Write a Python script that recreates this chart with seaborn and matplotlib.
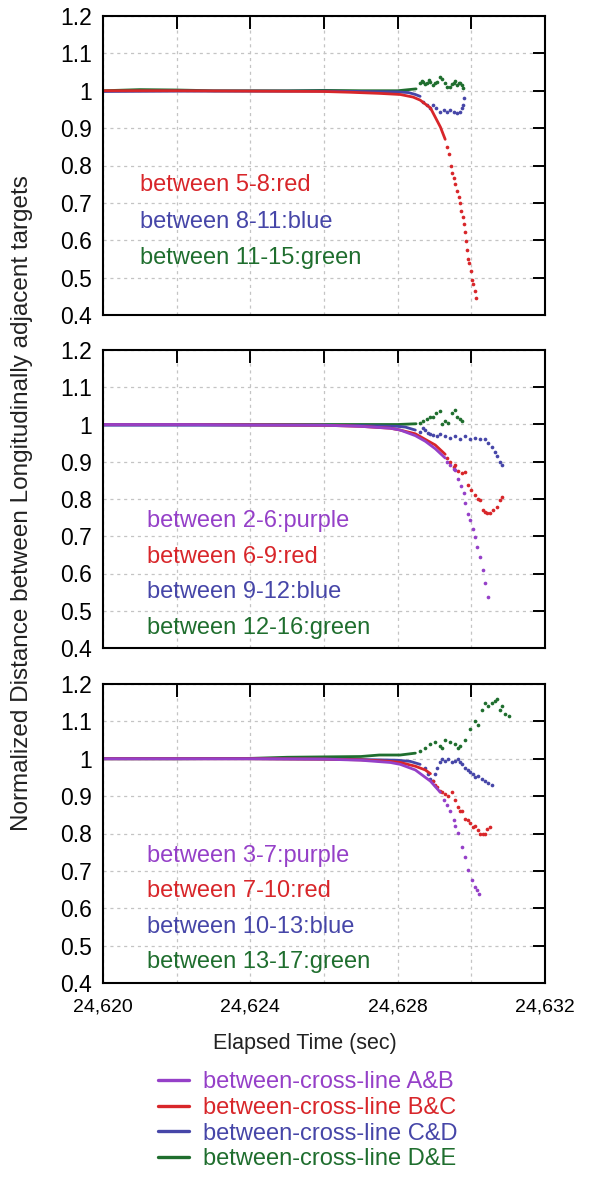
import matplotlib
matplotlib.use('Agg')
import matplotlib.pyplot as plt
import seaborn as sns
import pandas as pd
from matplotlib.lines import Line2D
from matplotlib.ticker import FuncFormatter, MultipleLocator

sns.set_theme(style='white')
plt.rcParams['font.family'] = ['Liberation Sans', 'DejaVu Sans']

T0 = 24620  # elapsed-time origin (sec); all t values below are offsets from it

# ---------------- top panel ----------------
top_green_t = [0, 1, 2, 3, 4, 5, 6, 7, 8, 8.5]
top_green_v = [1.0, 1.003, 1.002, 1.0, 1.0, 1.0, 1.001, 1.0, 1.0, 1.005]
top_green_dot_t = [8.61, 8.66, 8.70, 8.75, 8.80, 8.85, 8.89, 8.97, 9.02, 9.08, 9.16, 9.21, 9.29, 9.35, 9.43, 9.48, 9.52, 9.57, 9.61, 9.66, 9.70, 9.74, 9.77]
top_green_dot_v = [1.02, 1.025, 1.024, 1.018, 1.02, 1.028, 1.024, 1.015, 1.02, 1.024, 1.038, 1.031, 1.02, 1.011, 1.011, 1.018, 1.02, 1.025, 1.015, 1.02, 1.022, 1.015, 1.007]
top_blue_t = [0, 2, 4, 6, 7, 8, 8.3, 8.48, 8.61]
top_blue_v = [0.998, 0.999, 0.999, 0.999, 0.998, 0.997, 0.995, 0.99, 0.985]
top_blue_dot_t = [8.70, 8.80, 8.89, 8.97, 9.05, 9.16, 9.25, 9.35, 9.43, 9.52, 9.61, 9.70, 9.74, 9.77, 9.79]
top_blue_dot_v = [0.97, 0.962, 0.955, 0.962, 0.953, 0.944, 0.949, 0.944, 0.949, 0.944, 0.94, 0.944, 0.953, 0.962, 0.98]
top_red_t = [0, 2, 4, 6, 6.7, 7.5, 8.07, 8.42, 8.61, 8.89, 9.16, 9.29]
top_red_v = [1.0, 1.0, 0.999, 0.998, 0.996, 0.993, 0.99, 0.983, 0.975, 0.954, 0.903, 0.87]
top_red_dot_t = [9.34, 9.40, 9.44, 9.475, 9.52, 9.565, 9.61, 9.655, 9.68, 9.73, 9.765, 9.79, 9.84, 9.86, 9.88, 9.91, 9.945, 9.98, 10.02, 10.055, 10.09, 10.13]
top_red_dot_v = [0.85, 0.83, 0.80, 0.779, 0.766, 0.75, 0.733, 0.715, 0.699, 0.679, 0.662, 0.643, 0.622, 0.598, 0.574, 0.549, 0.539, 0.519, 0.494, 0.483, 0.463, 0.445]

# ---------------- middle panel ----------------
mid_green_t = [0, 2, 4, 6, 7, 8, 8.5]
mid_green_v = [1.0, 1.0, 1.0, 1.0, 1.0, 1.0, 1.002]
mid_green_dot_t = [8.61, 8.70, 8.80, 8.89, 8.97, 9.05, 9.16, 9.21, 9.29, 9.38, 9.48, 9.57, 9.62, 9.70, 9.76]
mid_green_dot_v = [1.005, 1.01, 1.015, 1.02, 1.02, 1.03, 1.035, 1.0, 1.01, 1.005, 1.03, 1.04, 1.02, 1.015, 1.01]
mid_blue_t = [0, 2, 4, 6, 7, 8, 8.21, 8.48]
mid_blue_v = [0.998, 0.998, 0.998, 0.998, 0.997, 0.995, 0.993, 0.985]
mid_blue_dot_t = [8.61, 8.70, 8.75, 8.83, 8.89, 8.97, 9.08, 9.16, 9.29, 9.43, 9.57, 9.70, 9.84, 9.97, 10.11, 10.24, 10.38, 10.46, 10.57, 10.65, 10.71, 10.79, 10.84]
mid_blue_dot_v = [0.98, 0.99, 0.985, 0.978, 0.975, 0.972, 0.97, 0.975, 0.968, 0.965, 0.97, 0.962, 0.97, 0.96, 0.965, 0.96, 0.962, 0.95, 0.94, 0.925, 0.915, 0.9, 0.89]
mid_red_t = [0, 2, 4, 6, 7, 7.8, 8.07, 8.48, 8.75, 9.02, 9.29]
mid_red_v = [1.0, 1.0, 0.999, 0.998, 0.995, 0.99, 0.985, 0.975, 0.96, 0.945, 0.92]
mid_red_dot_t = [9.35, 9.43, 9.52, 9.57, 9.65, 9.76, 9.84, 9.92, 10.0, 10.11, 10.19, 10.24, 10.33, 10.38, 10.43, 10.52, 10.60, 10.71, 10.79, 10.84]
mid_red_dot_v = [0.91, 0.9, 0.885, 0.89, 0.875, 0.87, 0.873, 0.838, 0.825, 0.811, 0.80, 0.797, 0.77, 0.765, 0.762, 0.762, 0.77, 0.779, 0.797, 0.806]
mid_purple_t = [0, 2, 4, 6, 7, 7.8, 8.07, 8.48, 8.75, 9.02, 9.29]
mid_purple_v = [1.0, 1.0, 0.999, 0.998, 0.995, 0.99, 0.985, 0.97, 0.955, 0.935, 0.91]
mid_purple_dot_t = [9.35, 9.43, 9.52, 9.57, 9.65, 9.72, 9.79, 9.84, 9.92, 9.97, 10.05, 10.11, 10.15, 10.24, 10.33, 10.38, 10.46]
mid_purple_dot_v = [0.9, 0.89, 0.88, 0.878, 0.855, 0.835, 0.815, 0.79, 0.76, 0.744, 0.72, 0.699, 0.67, 0.645, 0.609, 0.574, 0.538]

# ---------------- bottom panel ----------------
bot_green_t = [0, 2, 4, 5, 6, 7, 7.5, 8.07, 8.48]
bot_green_v = [1.0, 1.0, 1.001, 1.004, 1.005, 1.006, 1.01, 1.01, 1.015]
bot_green_dot_t = [8.61, 8.75, 8.89, 9.02, 9.16, 9.21, 9.29, 9.43, 9.57, 9.65, 9.70, 9.84, 9.97, 10.11, 10.19, 10.28, 10.38, 10.46, 10.57, 10.65, 10.71, 10.79, 10.84, 10.92, 11.01]
bot_green_dot_v = [1.02, 1.03, 1.04, 1.045, 1.035, 1.03, 1.05, 1.045, 1.04, 1.03, 1.035, 1.05, 1.08, 1.1, 1.09, 1.13, 1.15, 1.14, 1.15, 1.155, 1.16, 1.13, 1.14, 1.12, 1.115]
bot_blue_t = [0, 2, 4, 6, 7, 8, 8.34, 8.61]
bot_blue_v = [1.0, 1.0, 1.0, 0.999, 0.998, 0.996, 0.993, 0.985]
bot_blue_dot_t = [8.75, 8.83, 8.89, 8.97, 9.02, 9.08, 9.16, 9.21, 9.29, 9.38, 9.48, 9.57, 9.65, 9.70, 9.76, 9.84, 9.92, 9.97, 10.05, 10.11, 10.19, 10.28, 10.38, 10.46, 10.57]
bot_blue_dot_v = [0.975, 0.96, 0.945, 0.94, 0.96, 0.975, 0.99, 1.0, 0.995, 1.0, 0.99, 0.995, 1.0, 0.99, 0.985, 0.975, 0.97, 0.965, 0.96, 0.95, 0.955, 0.945, 0.94, 0.935, 0.93]
bot_red_t = [0, 2, 4, 6, 7, 7.8, 8.07, 8.48, 8.75, 8.89]
bot_red_v = [1.0, 1.0, 1.0, 0.999, 0.997, 0.993, 0.99, 0.98, 0.97, 0.96]
bot_red_dot_t = [8.97, 9.02, 9.08, 9.16, 9.21, 9.29, 9.38, 9.48, 9.57, 9.65, 9.70, 9.76, 9.84, 9.92, 9.97, 10.05, 10.11, 10.19, 10.24, 10.33, 10.38, 10.43, 10.52]
bot_red_dot_v = [0.94, 0.93, 0.925, 0.915, 0.91, 0.905, 0.9, 0.91, 0.89, 0.87, 0.86, 0.86, 0.84, 0.835, 0.827, 0.818, 0.82, 0.81, 0.80, 0.80, 0.80, 0.813, 0.818]
bot_purple_t = [0, 2, 4, 6, 7, 7.8, 8.07, 8.48, 8.89, 9.16]
bot_purple_v = [1.0, 1.0, 1.0, 0.999, 0.996, 0.99, 0.985, 0.97, 0.94, 0.91]
bot_purple_dot_t = [9.25, 9.35, 9.43, 9.52, 9.57, 9.65, 9.74, 9.83, 9.92, 10.01, 10.11, 10.15, 10.22]
bot_purple_dot_v = [0.89, 0.875, 0.86, 0.836, 0.82, 0.801, 0.765, 0.738, 0.703, 0.676, 0.658, 0.648, 0.638]

top_labels = ['between 5-8:red', 'between 8-11:blue', 'between 11-15:green']
mid_labels = ['between 2-6:purple', 'between 6-9:red', 'between 9-12:blue', 'between 12-16:green']
bot_labels = ['between 3-7:purple', 'between 7-10:red', 'between 10-13:blue', 'between 13-17:green']
legend_labels = ['between-cross-line A&B', 'between-cross-line B&C',
                 'between-cross-line C&D', 'between-cross-line D&E']
x_tick_labels = ['24,620', '24,624', '24,628', '24,632']
y_ticks = [0.4, 0.5, 0.6, 0.7, 0.8, 0.9, 1.0, 1.1, 1.2]

PURPLE = '#9540C8'
RED = '#D8262A'
BLUE = '#4646A8'
GREEN = '#1F6E2E'

W, H = 610, 1186
fig = plt.figure(figsize=(W / 100, H / 100), dpi=100)


def add_axes(top_px, bot_px):
    return fig.add_axes([103 / W, 1 - bot_px / H, 442 / W, (bot_px - top_px) / H])


ax_top = add_axes(16, 315)
ax_mid = add_axes(350, 648)
ax_bot = add_axes(684, 983)


def draw(ax, t, v, dt, dv, color):
    dl = pd.DataFrame({'t': [T0 + x for x in t], 'v': v})
    dd = pd.DataFrame({'t': [T0 + x for x in dt], 'v': dv})
    sns.lineplot(data=dl, x='t', y='v', ax=ax, color=color, lw=2.0, sort=False,
                 estimator=None)
    sns.scatterplot(data=dd, x='t', y='v', ax=ax, color=color, s=7, linewidth=0)


draw(ax_top, top_green_t, top_green_v, top_green_dot_t, top_green_dot_v, GREEN)
draw(ax_top, top_blue_t, top_blue_v, top_blue_dot_t, top_blue_dot_v, BLUE)
draw(ax_top, top_red_t, top_red_v, top_red_dot_t, top_red_dot_v, RED)

draw(ax_mid, mid_green_t, mid_green_v, mid_green_dot_t, mid_green_dot_v, GREEN)
draw(ax_mid, mid_blue_t, mid_blue_v, mid_blue_dot_t, mid_blue_dot_v, BLUE)
draw(ax_mid, mid_red_t, mid_red_v, mid_red_dot_t, mid_red_dot_v, RED)
draw(ax_mid, mid_purple_t, mid_purple_v, mid_purple_dot_t, mid_purple_dot_v, PURPLE)

draw(ax_bot, bot_green_t, bot_green_v, bot_green_dot_t, bot_green_dot_v, GREEN)
draw(ax_bot, bot_blue_t, bot_blue_v, bot_blue_dot_t, bot_blue_dot_v, BLUE)
draw(ax_bot, bot_red_t, bot_red_v, bot_red_dot_t, bot_red_dot_v, RED)
draw(ax_bot, bot_purple_t, bot_purple_v, bot_purple_dot_t, bot_purple_dot_v, PURPLE)

label_tick_values = [float(s.replace(',', '')) for s in x_tick_labels]


def xfmt(x, pos):
    for val, lab in zip(label_tick_values, x_tick_labels):
        if abs(x - val) < 1e-6:
            return lab
    return ''


for ax in (ax_top, ax_mid, ax_bot):
    ax.set_xlim(label_tick_values[0], label_tick_values[-1])
    ax.set_ylim(y_ticks[0], y_ticks[-1])
    ax.xaxis.set_major_locator(MultipleLocator(2))
    ax.set_yticks(y_ticks)
    ax.yaxis.set_major_formatter(FuncFormatter(lambda y, p: f'{y:g}'))
    ax.xaxis.set_major_formatter(FuncFormatter(xfmt))
    ax.grid(True, color='#C4C4C4', linestyle=(0, (2.5, 3)), linewidth=0.9)
    ax.set_axisbelow(True)
    for sp in ax.spines.values():
        sp.set_color('black')
        sp.set_linewidth(1.5)
    ax.tick_params(axis='both', which='major', direction='in', length=9, width=1.4,
                   top=True, right=True, colors='black')
    ax.tick_params(axis='y', labelsize=16.5, pad=8)
    ax.tick_params(axis='x', labelsize=14, pad=11)
    ax.set_xlabel('')
    ax.set_ylabel('')

ax_top.tick_params(axis='x', labelbottom=False)
ax_mid.tick_params(axis='x', labelbottom=False)

top_colors = [RED, BLUE, GREEN]
four_colors = [PURPLE, RED, BLUE, GREEN]
top_text_y = [0.748, 0.649, 0.553]
mid_text_y = [0.74, 0.645, 0.55, 0.455]
bot_text_y = [0.74, 0.645, 0.55, 0.455]

for lab, c, y in zip(top_labels, top_colors, top_text_y):
    ax_top.text(T0 + 1.0, y, lab, color=c, fontsize=17, va='center', ha='left')
for lab, c, y in zip(mid_labels, four_colors, mid_text_y):
    ax_mid.text(T0 + 1.2, y, lab, color=c, fontsize=17, va='center', ha='left')
for lab, c, y in zip(bot_labels, four_colors, bot_text_y):
    ax_bot.text(T0 + 1.2, y, lab, color=c, fontsize=17, va='center', ha='left')

fig.text(22 / W, 1 - 503 / H, 'Normalized Distance between Longitudinally adjacent targets',
         rotation=90, fontsize=17.5, ha='center', va='center', color='#222222')
fig.text(305 / W, 1 - 1043 / H, 'Elapsed Time (sec)', fontsize=15.5,
         ha='center', va='center', color='#222222')

handles = [Line2D([], [], color=c, lw=2.4) for c in four_colors]
fig.legend(handles, legend_labels, loc='upper left', bbox_to_anchor=(158 / W, 1 - 1071 / H),
           frameon=False, fontsize=17, handlelength=1.3, handletextpad=0.6,
           labelspacing=0.16, borderpad=0, borderaxespad=0, labelcolor='linecolor')

fig.savefig('out.png', dpi=100)
